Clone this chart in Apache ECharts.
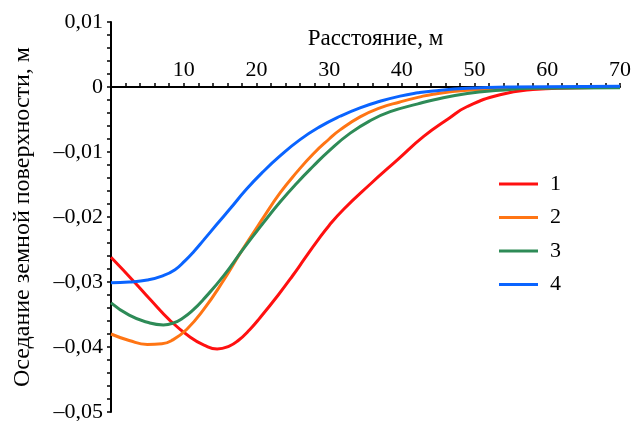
<!DOCTYPE html>
<html>
<head>
<meta charset="utf-8">
<script src="https://cdn.jsdelivr.net/npm/echarts@6/dist/echarts.min.js"></script>
<style>
  html, body { margin: 0; padding: 0; background: #fff; }
  #chart { width: 633px; height: 421px; }
</style>
</head>
<body>
<div id="chart"></div>
<script>
// values: [distance, settlement]
const curve1 = [[0,-0.0262],[3.3,-0.0301],[5.4,-0.0327],[8.1,-0.0359],[10.9,-0.0385],[12.8,-0.0397],[14.6,-0.0403],[16.2,-0.0399],[17.5,-0.0390],[19.1,-0.0373],[20.5,-0.0355],[23,-0.0320],[25,-0.0290],[26.7,-0.0263],[28.3,-0.0238],[30,-0.0213],[32,-0.0188],[35.6,-0.0150],[39.5,-0.0111],[43,-0.0076],[46.5,-0.0048],[49,-0.0030],[53.5,-0.0012],[58,-0.0004],[63,-0.00015],[70,-0.00005]];
const curve2 = [[0,-0.0380],[2.5,-0.0390],[5,-0.0396],[7,-0.0395],[8.5,-0.0389],[10.4,-0.0373],[12.7,-0.0343],[15.45,-0.0298],[17.75,-0.0256],[20.95,-0.0201],[23.25,-0.0163],[25.55,-0.0131],[27.8,-0.0103],[30,-0.0080],[31.5,-0.0066],[34.25,-0.0046],[37,-0.0032],[39.75,-0.0023],[42.2,-0.0016],[44.3,-0.0011],[49,-0.0005],[55,-0.0002],[70,0]];
const curve3 = [[0,-0.0332],[2.5,-0.0351],[5,-0.0362],[7.2,-0.0366],[8.6,-0.0363],[9.95,-0.0355],[11.3,-0.0343],[12.7,-0.0327],[15.45,-0.0291],[18.2,-0.0249],[20.95,-0.0209],[23.25,-0.0177],[25.55,-0.0148],[27.8,-0.0122],[30.1,-0.0097],[32.9,-0.0071],[35.6,-0.0052],[38.4,-0.0038],[42.2,-0.0026],[44.3,-0.0020],[49,-0.0010],[53.5,-0.0005],[58,-0.0002],[70,-0.0001]];
const curve4 = [[0,-0.0301],[2.5,-0.0300],[5,-0.0297],[7,-0.0291],[8.8,-0.0281],[10.2,-0.0267],[11.4,-0.0253],[12.7,-0.0236],[14.5,-0.0212],[16.4,-0.0187],[18.65,-0.0157],[20.95,-0.0130],[23.25,-0.0106],[26,-0.0081],[28.75,-0.0061],[31.5,-0.0045],[34.25,-0.0032],[37,-0.0022],[39.75,-0.0014],[42.2,-0.0009],[44.3,-0.0006],[49,-0.0002],[55,0],[70,0.0001]];

const seriesNames = ["1", "2", "3", "4"];
const seriesColors = ["#ff1010", "#ff7514", "#2e8b57", "#0a64ff"];
const xTicks = [0, 10, 20, 30, 40, 50, 60, 70];
const yTicks = [-0.05, -0.04, -0.03, -0.02, -0.01, 0, 0.01];

const font = "'Liberation Serif', 'Times New Roman', serif";
const chart = echarts.init(document.getElementById("chart"));

const fmtY = (v) => {
  if (Math.abs(v) < 1e-9) return "0";
  const s = Math.abs(v).toFixed(2).replace(".", ",");
  return v < 0 ? "\u2013" + s : s;
};

// grid box, and the x axis moved down from the top edge to the zero line
const gridTop = 22, gridBottom = 9;
const gridH = 421 - gridTop - gridBottom;
const zeroOffset = gridH * (yTicks[yTicks.length - 1] / (yTicks[yTicks.length - 1] - yTicks[0]));

chart.setOption({
  backgroundColor: "#fff",
  animation: false,
  grid: { left: 111, right: 13, top: gridTop, bottom: gridBottom, outerBoundsMode: "none", containLabel: false },
  legend: {
    orient: "vertical",
    left: 494,
    top: 168,
    icon: "rect",
    itemWidth: 39,
    itemHeight: 3,
    itemGap: 11.5,
    textStyle: { fontFamily: font, fontSize: 22, color: "#000", padding: [0, 0, 0, 7] },
    data: seriesNames,
  },
  xAxis: {
    type: "value",
    position: "top",
    offset: -zeroOffset,
    min: xTicks[0],
    max: xTicks[xTicks.length - 1],
    interval: 10,
    name: "Расстояние, м",
    nameLocation: "middle",
    nameGap: 37,
    nameTextStyle: { fontFamily: font, fontSize: 23, color: "#000", padding: [0, 0, 0, 20] },
    axisLine: { onZero: false, lineStyle: { color: "#000", width: 2 } },
    axisTick: { length: 4, lineStyle: { color: "#000", width: 1.5 } },
    minorTick: { show: true, splitNumber: 5, length: 4, lineStyle: { color: "#000", width: 1.5 } },
    axisLabel: {
      fontFamily: font, fontSize: 22, color: "#000", margin: 6,
      formatter: (v) => (v === 0 ? "" : String(v)),
    },
    splitLine: { show: false },
  },
  yAxis: {
    type: "value",
    min: yTicks[0],
    max: yTicks[yTicks.length - 1],
    interval: 0.01,
    name: "Оседание земной поверхности, м",
    nameLocation: "middle",
    nameGap: 76,
    nameTextStyle: { fontFamily: font, fontSize: 24, color: "#000" },
    axisLine: { show: true, lineStyle: { color: "#000", width: 2 } },
    axisTick: { show: true, length: 4, lineStyle: { color: "#000", width: 1.5 } },
    minorTick: { show: true, splitNumber: 5, length: 4, lineStyle: { color: "#000", width: 1.5 } },
    axisLabel: { fontFamily: font, fontSize: 22, color: "#000", margin: 8, formatter: fmtY },
    splitLine: { show: false },
  },
  series: [curve1, curve2, curve3, curve4].map((d, i) => ({
    name: seriesNames[i],
    type: "line",
    data: d,
    smooth: 0.5,
    symbol: "none",
    lineStyle: { color: seriesColors[i], width: 3 },
    itemStyle: { color: seriesColors[i] },
  })),
});
</script>
</body>
</html>
